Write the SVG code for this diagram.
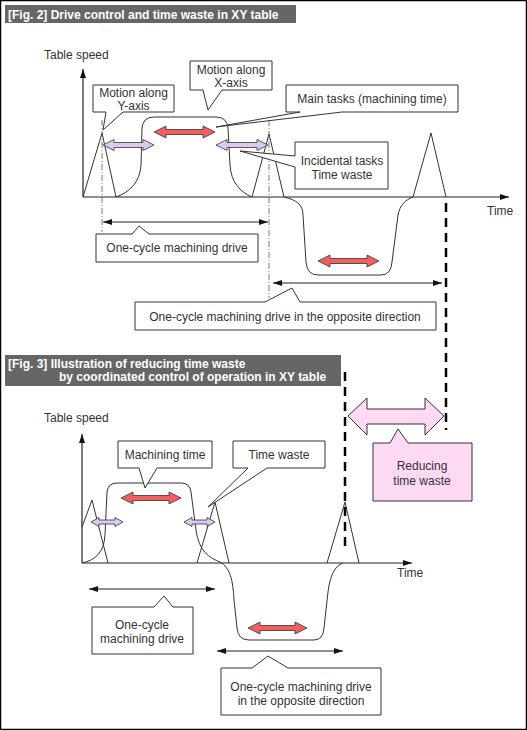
<svg xmlns="http://www.w3.org/2000/svg" width="527" height="730" viewBox="0 0 527 730">
<style>
.t{font-family:"Liberation Sans",Arial,sans-serif;font-size:12px;fill:#333}
.c{text-anchor:middle}
.h{font-family:"Liberation Sans",Arial,sans-serif;font-size:12px;font-weight:bold;fill:#fff}
.box{fill:#fff;stroke:#333;stroke-width:1}
.pink{fill:#fdd9f4;stroke:#333;stroke-width:1}
.ax{fill:none;stroke:#222;stroke-width:1.2}
.cv{fill:none;stroke:#333;stroke-width:1}
.dd{fill:none;stroke:#555;stroke-width:0.8;stroke-dasharray:6,2,1,2}
.thick{fill:none;stroke:#000;stroke-width:2.5;stroke-dasharray:9,6}
.dim{fill:none;stroke:#222;stroke-width:1}
.red{fill:#f25f5f;stroke:#333;stroke-width:0.8}
.pur{fill:#dcc9f0;stroke:#333;stroke-width:0.8}
</style>
<defs>
<marker id="ah" markerWidth="10" markerHeight="8" refX="9" refY="4" orient="auto-start-reverse" markerUnits="userSpaceOnUse">
<path d="M0,1 L9,4 L0,7 Z" fill="#111"/>
</marker>
</defs>
<rect x="0.5" y="0.5" width="526" height="729" fill="#fff" stroke="#000" stroke-width="1.5"/>

<g id="title2">
<rect x="5" y="5" width="291" height="18" fill="#666"/>
<text class="h" x="8" y="18.5">[Fig. 2] Drive control and time waste in XY table</text>
</g>
<g id="title3">
<rect x="5" y="355" width="336" height="31" fill="#666"/>
<text class="h" x="8" y="368">[Fig. 3] Illustration of reducing time waste</text>
<text class="h" x="59" y="381">by coordinated control of operation in XY table</text>
</g>

<!-- Fig 2 plot -->
<g id="fig2-plot">
<text class="t" x="44" y="59">Table speed</text>
<text class="t" x="487" y="215">Time</text>
<line class="ax" x1="83" y1="197" x2="83" y2="69" marker-end="url(#ah)"/>
<line class="ax" x1="83" y1="197" x2="509" y2="197" marker-end="url(#ah)"/>
<polyline class="cv" points="83,197 102,133 116,197"/>
<path class="cv" d="M116,197 C130,192 140,182 141,165 L142,128 Q143,117 154,117 L216,117 Q227,117 228,128 L230,165 C231,182 240,192 252,197"/>
<polyline class="cv" points="252,197 269,134 284,197"/>
<path class="cv" d="M284,197 C297,200 303,205 303,215 L306,262 Q307,275 318,275 L381,275 Q391,275 392,262 L398,215 C400,205 405,200 413,197"/>
<polyline class="cv" points="413,197 431,133 446,197"/>
<line class="dd" x1="102" y1="120" x2="102" y2="232"/>
<line class="dd" x1="269" y1="120" x2="269" y2="298"/>
</g>

<!-- Fig 3 plot -->
<g id="fig3-plot">
<text class="t" x="44" y="422">Table speed</text>
<text class="t" x="397" y="577">Time</text>
<line class="ax" x1="82" y1="563" x2="82" y2="434" marker-end="url(#ah)"/>
<line class="ax" x1="82" y1="563" x2="412" y2="563" marker-end="url(#ah)"/>
<polyline class="cv" points="82,527 92,500 108,563"/>
<path class="cv" d="M82,563 C96,560 104,552 105,535 L107,492 Q108,483 117,483 L181,483 Q190,483 191,492 L196,530 C199,552 210,558 220,562 C230,567 233,580 234,600 L237,628 Q238,640 249,640 L314,640 Q323,640 324,628 L328,592 C330,575 335,566 343,563"/>
<polyline class="cv" points="197,563 215,502 229,563"/>
<polyline class="cv" points="327,563 345,502 359,563"/>
</g>

<g id="connectors">
<line class="thick" x1="446" y1="203" x2="446" y2="430"/>
<line class="thick" x1="345" y1="372" x2="345" y2="548"/>
<line class="dim" x1="103" y1="222" x2="268" y2="222" marker-start="url(#ah)" marker-end="url(#ah)"/>
<line class="dim" x1="273" y1="283" x2="442" y2="283" marker-start="url(#ah)" marker-end="url(#ah)"/>
<line class="dim" x1="89" y1="589" x2="215" y2="589" marker-start="url(#ah)" marker-end="url(#ah)"/>
<line class="dim" x1="217" y1="651" x2="343" y2="651" marker-start="url(#ah)" marker-end="url(#ah)"/>
<!-- block arrows fig 2 -->
<polygon class="red" points="154,132 166,126 166,129.5 203,129.5 203,126 215,132 203,138 203,134.5 166,134.5 166,138"/>
<polygon class="pur" points="103,145 114,139.5 114,142.5 143,142.5 143,139.5 154,145 143,150.5 143,147.5 114,147.5 114,150.5"/>
<polygon class="pur" points="216,145 227,139.5 227,142.5 257,142.5 257,139.5 268,145 257,150.5 257,147.5 227,147.5 227,150.5"/>
<polygon class="red" points="318,261 330,255 330,258.5 367,258.5 367,255 379,261 367,267 367,263.5 330,263.5 330,267"/>
<!-- block arrows fig 3 -->
<polygon class="red" points="121,498 133,492 133,495.5 169,495.5 169,492 181,498 169,504 169,500.5 133,500.5 133,504"/>
<polygon class="pur" points="91,522 99,517.5 99,520 115,520 115,517.5 123,522 115,526.5 115,524 99,524 99,526.5"/>
<polygon class="pur" points="184,522 192,517.5 192,520 207,520 207,517.5 215,522 207,526.5 207,524 192,524 192,526.5"/>
<polygon class="red" points="248,628 260,622 260,625.5 295,625.5 295,622 307,628 295,634 295,630.5 260,630.5 260,634"/>
<polygon class="pink" points="348,416 367,398 367,409 425,409 425,398 444,416 425,435 425,424 367,424 367,435"/>
</g>

<g id="n-motion-y">
<path class="box" d="M93,85 H174 V112 H123 L103,130 L106,112 H93 Z"/>
<text class="t c" x="133.5" y="97">Motion along</text>
<text class="t c" x="133.5" y="110">Y-axis</text>
</g>
<g id="n-motion-x">
<path class="box" d="M190,61 H272 V90 H222 L208,110 L203,90 H190 Z"/>
<text class="t c" x="231" y="74">Motion along</text>
<text class="t c" x="231" y="87">X-axis</text>
</g>
<g id="n-main-tasks">
<path class="box" d="M286,85 H458 V112 H342 L216,127 L300,112 H286 Z"/>
<text class="t c" x="372" y="103">Main tasks (machining time)</text>
</g>
<g id="n-incidental">
<path class="box" d="M295,142 H388 V189 H295 V167 L240,151 L295,156 Z"/>
<text class="t c" x="342" y="165">Incidental tasks</text>
<text class="t c" x="342" y="179">Time waste</text>
</g>
<g id="n-cycle2">
<path class="box" d="M96,234 H132 L139,226 L149,234 H258 V262 H96 Z"/>
<text class="t c" x="177" y="252">One-cycle machining drive</text>
</g>
<g id="n-opposite2">
<path class="box" d="M135,302 H265 L292,288 L300,302 H436 V330 H135 Z"/>
<text class="t c" x="285" y="321">One-cycle machining drive in the opposite direction</text>
</g>
<g id="n-machining">
<path class="box" d="M118,441 H212 V468 H157 L145,488 L139,468 H118 Z"/>
<text class="t c" x="165" y="459">Machining time</text>
</g>
<g id="n-timewaste">
<path class="box" d="M233,441 H325 V468 H267 L208,507 L248,468 H233 Z"/>
<text class="t c" x="279" y="459">Time waste</text>
</g>
<g id="n-reducing">
<path class="pink" d="M373,443 H390 L398,429 L408,443 H472 V501 H373 Z"/>
<text class="t c" x="422" y="470">Reducing</text>
<text class="t c" x="422" y="485">time waste</text>
</g>
<g id="n-cycle3">
<path class="box" d="M92,607 H154 L164,596 L173,607 H193 V654 H92 Z"/>
<text class="t c" x="142" y="629">One-cycle</text>
<text class="t c" x="142" y="643">machining drive</text>
</g>
<g id="n-opposite3">
<path class="box" d="M221,668 H252 L268,656 L288,668 H381 V715 H221 Z"/>
<text class="t c" x="301" y="691">One-cycle machining drive</text>
<text class="t c" x="301" y="705">in the opposite direction</text>
</g>
</svg>
